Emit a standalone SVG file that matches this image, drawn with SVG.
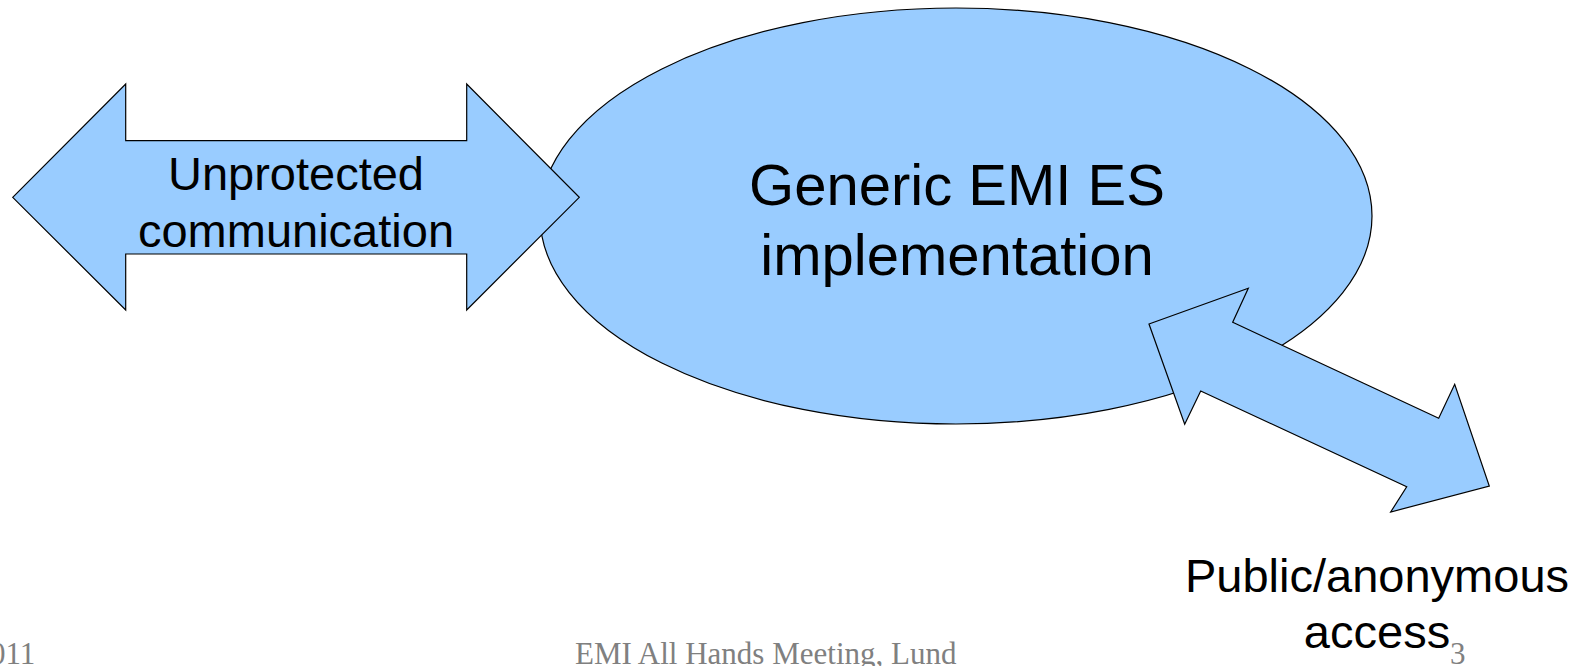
<svg xmlns="http://www.w3.org/2000/svg" width="1590" height="666" viewBox="0 0 1590 666">
<style>
.shape{fill:#99ccff;stroke:#000;stroke-width:1.2;stroke-linejoin:miter}
.lbl{font-family:"Liberation Sans",Arial,sans-serif;fill:#000;text-anchor:middle}
.foot{font-family:"Liberation Serif","Times New Roman",serif;fill:#808080;font-size:31px}
</style>
<rect width="1590" height="666" fill="#fff"/>
<g id="node-generic-emi-es">
<ellipse class="shape" cx="956" cy="216" rx="416" ry="208"/>
<text class="lbl" font-size="58" x="957" y="205">Generic EMI ES</text>
<text class="lbl" font-size="58" x="957" y="275">implementation</text>
</g>
<g id="connectors">
<polygon id="arrow-unprotected" class="shape" points="12.7,197.3 125.7,84 125.7,140.7 466.7,140.7 466.7,84 579.3,197.3 466.7,310 466.7,254 125.7,254 125.7,310"/>
<polygon id="arrow-public" class="shape" points="1149,324 1248.3,288.3 1232.7,322.3 1438.7,418.3 1454.7,384.3 1489.3,486 1390.7,512 1406.7,486.7 1200.7,391 1184.7,424.3"/>
</g>
<g id="node-unprotected">
<text class="lbl" font-size="47" x="296" y="190">Unprotected</text>
<text class="lbl" font-size="47" x="296" y="247">communication</text>
</g>
<g id="node-public">
<text class="lbl" font-size="47" x="1377" y="592">Public/anonymous</text>
<text class="lbl" font-size="47" x="1377" y="648">access</text>
</g>
<g id="footer">
<text class="foot" x="-10" y="664">011</text>
<text class="foot" x="575" y="664">EMI All Hands Meeting, Lund</text>
<text class="foot" x="1450" y="664">3</text>
</g>
</svg>
